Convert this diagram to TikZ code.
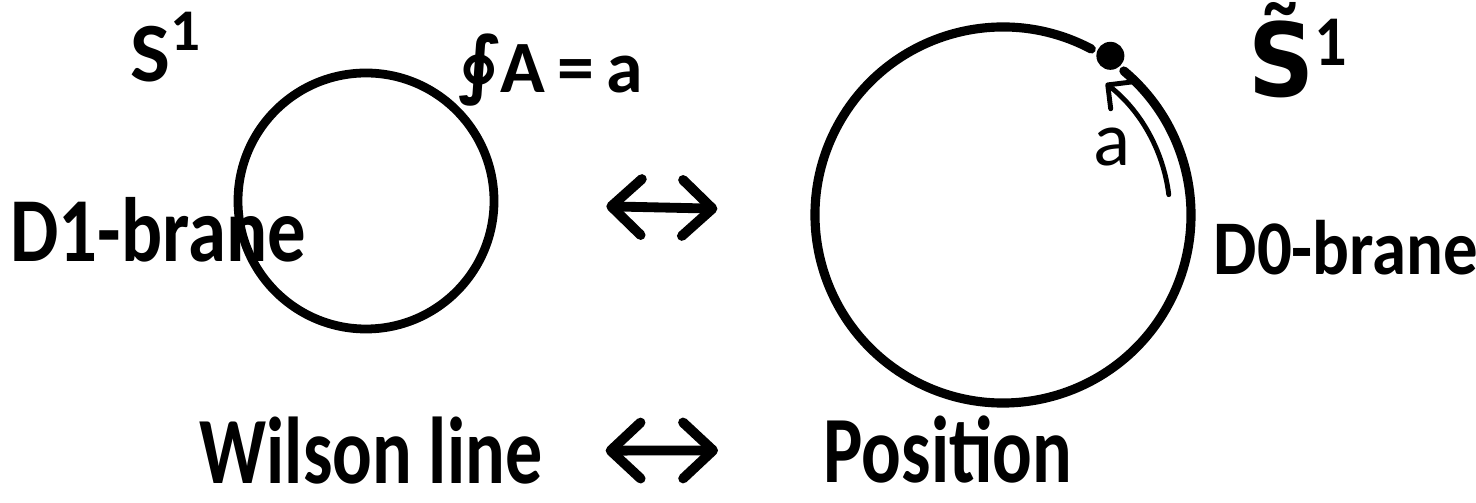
\documentclass[tikz,border=0pt]{standalone}
\usepackage{fontspec}
\setmainfont{Carlito}
\newfontfamily\symbolfont{DejaVu Sans}
\usetikzlibrary{positioning, arrows.meta}

\begin{document}
\begin{tikzpicture}[
  >={Straight Barb[round, length=3mm, width=5.6mm]},
  ring/.style={circle, draw, line width=2.5pt, inner sep=0pt},
  hand/.style={inner sep=0pt, anchor=base west, font=\bfseries},
  brane/.style={hand, xscale=0.84},
  caption/.style={hand, xscale=0.78},
  dual/.style={<->, line width=2.8pt, line cap=round},
]
\useasboundingbox (0,0) rectangle (14.76,-5.03);

% the two circles
\node[ring, minimum size=2.56cm] (lc) at (3.66,-2.01) {};
\node[circle, minimum size=3.76cm, inner sep=0pt] (rc) at (10.03,-2.15) {};
\draw[line width=2.6pt, line cap=round] ([shift={(62:1.88)}]rc.center)
  arc[start angle=62, end angle=410, radius=1.88];
\fill ([shift={(56:1.92)}]rc.center) circle (0.14);

% labels
\node[hand, font=\bfseries\fontsize{24}{26}\selectfont] (s1) at (1.30,-0.82) {S\textsuperscript{1}};
\node[hand, font=\bfseries\fontsize{29}{36}\selectfont, xscale=0.9] (s1t) at (12.48,-0.97)
  {{\symbolfont S^^^^0303}\textsuperscript{1}};
\node[hand, font=\bfseries\fontsize{21}{24}\selectfont] (wl) at (4.58,-0.93)
  {{\symbolfont\fontsize{21}{24}\selectfont\raisebox{0.05em}{∮}}A\,=\,a};
\node[brane, font=\bfseries\fontsize{26}{28}\selectfont] (d1) at (0.10,-2.62) {D1-brane};
\node[brane, xscale=1.06, font=\bfseries\fontsize{22}{24}\selectfont] (d0) at (12.13,-2.75) {D0-brane};
\node[font=\fontsize{22}{24}\selectfont] (alab) at ([shift={(32:1.28)}]rc.center) {a};
\node[caption, font=\bfseries\fontsize{27}{30}\selectfont] (wilson) at (1.99,-4.84) {Wilson line};
\node[caption, font=\bfseries\fontsize{27}{30}\selectfont] (pos) at (8.23,-4.83) {Position};

% arrows
\draw[->, line width=1.4pt, line cap=round, >={Straight Barb[round, length=1.7mm, width=3.4mm]}]
  ([shift={(7:1.67)}]rc.center) arc[start angle=7, end angle=52, radius=1.67];
\draw[dual, shorten <=1.08cm, shorten >=0.97cm] (lc) -- (rc);
\draw[dual, shorten <=0.63cm, shorten >=1.05cm] (wilson) -- (pos);

\end{tikzpicture}
\end{document}
